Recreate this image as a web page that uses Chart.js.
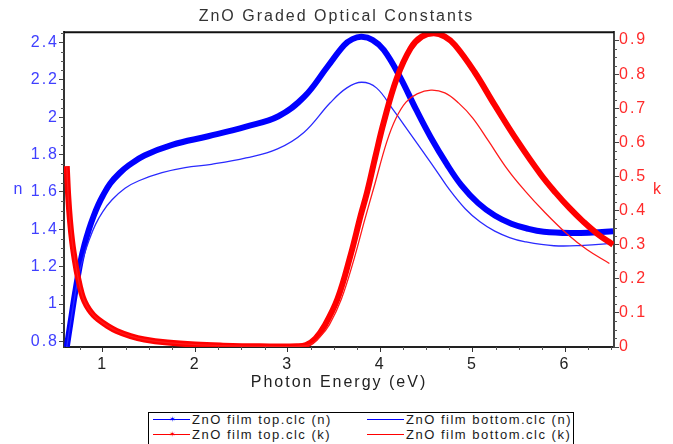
<!DOCTYPE html>
<html>
<head>
<meta charset="utf-8">
<script src="https://cdn.jsdelivr.net/npm/chart.js@4.4.1/dist/chart.umd.min.js"></script>
<style>
  html, body { margin: 0; padding: 0; background: #fff; overflow: hidden; }
  #wrap { position: relative; width: 673px; height: 444px; }
  #legend {
    position: absolute; left: 148px; top: 412px; width: 424px; height: 40px;
    border: 1px solid #000; background: #fff;
    font: 13px "Liberation Sans", Arial, sans-serif; letter-spacing: 1.5px; color: #1a1a1a;
  }
  .item { position: absolute; height: 14px; line-height: 14px; white-space: nowrap; padding-left: 39px; }
  .swatch { position: absolute; left: 0; top: 6px; width: 37px; height: 0; border-top: 1.5px solid; }
  .mark { position: absolute; left: 16px; top: 3px; font-size: 8px; line-height: 8px; letter-spacing: 0; }
</style>
</head>
<body>
<div id="wrap">
  <canvas id="opticalChart" width="673" height="444"></canvas>
  <div id="legend">
    <div class="item" style="left:4px;top:0px"><span class="swatch" style="border-color:#0000ff"></span><span class="mark" style="color:#0000ff">&#10038;</span>ZnO film top.clc (n)</div>
    <div class="item" style="left:218px;top:0px"><span class="swatch" style="border-color:#0000ff"></span>ZnO film bottom.clc (n)</div>
    <div class="item" style="left:4px;top:15px"><span class="swatch" style="border-color:#ff0000"></span><span class="mark" style="color:#ff0000">&#10038;</span>ZnO film top.clc (k)</div>
    <div class="item" style="left:218px;top:15px"><span class="swatch" style="border-color:#ff0000"></span>ZnO film bottom.clc (k)</div>
  </div>
</div>
<script>
// photon energy (eV) and refractive index n, top of the graded film
var topNEnergy = [0.61, 0.65, 0.70, 0.76, 0.80, 0.85, 0.90, 0.95, 1.0, 1.08, 1.18, 1.28, 1.45, 1.75, 2.14, 2.55, 2.9, 3.18, 3.43, 3.61, 3.7, 3.8, 3.92, 4.04, 4.21, 4.39, 4.55, 4.72, 4.88, 5.06, 5.24, 5.42, 5.6, 5.77, 6.06, 6.3, 6.52];
var topN = [0.77, 0.90, 1.06, 1.23, 1.315, 1.40, 1.47, 1.53, 1.58, 1.645, 1.70, 1.742, 1.795, 1.852, 1.898, 1.95, 2.005, 2.11, 2.27, 2.385, 2.418, 2.43, 2.413, 2.36, 2.22, 2.04, 1.89, 1.75, 1.635, 1.54, 1.474, 1.43, 1.403, 1.387, 1.38, 1.383, 1.39];

// refractive index n, bottom of the film
var bottomNEnergy = [0.61, 0.65, 0.70, 0.74, 0.79, 0.85, 0.92, 1.0, 1.1, 1.24, 1.39, 1.64, 1.89, 2.175, 2.55, 2.89, 3.175, 3.46, 3.64, 3.8, 3.96, 4.14, 4.3, 4.45, 4.6, 4.75, 4.92, 5.08, 5.24, 5.4, 5.56, 5.88, 6.2, 6.52];
var bottomN = [0.77, 0.90, 1.05, 1.155, 1.25, 1.34, 1.425, 1.495, 1.558, 1.62, 1.66, 1.703, 1.73, 1.748, 1.782, 1.83, 1.918, 2.077, 2.157, 2.187, 2.157, 2.04, 1.93, 1.825, 1.72, 1.612, 1.51, 1.44, 1.39, 1.356, 1.334, 1.312, 1.314, 1.325];

// extinction coefficient k, top of the film
var topKEnergy = [0.61, 0.625, 0.645, 0.67, 0.70, 0.73, 0.77, 0.80, 0.85, 0.90, 0.95, 1.05, 1.15, 1.3, 1.45, 1.7, 2.0, 2.3, 2.7, 3.1, 3.2, 3.3, 3.4, 3.54, 3.68, 3.79, 3.86, 3.95, 4.04, 4.18, 4.33, 4.45, 4.58, 4.7, 4.81, 5.02, 5.24, 5.49, 5.74, 5.9, 6.05, 6.2, 6.35, 6.52];
var topK = [0.53, 0.445, 0.37, 0.305, 0.25, 0.205, 0.158, 0.135, 0.11, 0.093, 0.081, 0.062, 0.047, 0.032, 0.022, 0.013, 0.007, 0.004, 0.002, 0.002, 0.006, 0.025, 0.063, 0.142, 0.269, 0.386, 0.455, 0.56, 0.66, 0.788, 0.876, 0.91, 0.92, 0.91, 0.885, 0.807, 0.709, 0.602, 0.505, 0.452, 0.407, 0.367, 0.332, 0.30];

// extinction coefficient k, bottom of the film
var bottomKEnergy = [0.61, 0.625, 0.645, 0.67, 0.70, 0.73, 0.77, 0.80, 0.85, 0.90, 0.95, 1.05, 1.15, 1.3, 1.45, 1.7, 2.0, 2.3, 2.7, 3.1, 3.25, 3.35, 3.45, 3.58, 3.72, 3.83, 3.94, 4.07, 4.17, 4.28, 4.4, 4.55, 4.7, 4.85, 5.0, 5.17, 5.38, 5.56, 5.77, 6.02, 6.24, 6.48];
var bottomK = [0.53, 0.445, 0.37, 0.305, 0.25, 0.205, 0.158, 0.135, 0.11, 0.093, 0.081, 0.062, 0.047, 0.032, 0.022, 0.013, 0.007, 0.004, 0.002, 0.002, 0.008, 0.03, 0.065, 0.14, 0.26, 0.37, 0.475, 0.60, 0.67, 0.718, 0.742, 0.753, 0.745, 0.715, 0.672, 0.605, 0.52, 0.46, 0.398, 0.332, 0.285, 0.245];

// axis tick labels
var energyTicks = [1, 2, 3, 4, 5, 6];
var nTicks = [0.8, 1, 1.2, 1.4, 1.6, 1.8, 2, 2.2, 2.4];
var kTicks = [0, 0.1, 0.2, 0.3, 0.4, 0.5, 0.6, 0.7, 0.8, 0.9];

var FONT = '"Liberation Sans", Arial, sans-serif';
var nColor = '#3f3fff';
var kColor = '#ff2a2a';

function points(xs, ys) {
    return xs.map(function(x, i) { return { x: x, y: ys[i] }; });
}

function fixedTicks(values) {
    return function(scale) {
        scale.ticks = values.map(function(v) { return { value: v }; });
    };
}

function tickText(v) {
    return String(+v.toFixed(2));
}

// minor tick marks, top border and the unrotated n / k axis labels
var decorations = {
    id: 'decorations',
    beforeDraw: function(chart) {
        chart.ctx.letterSpacing = '2px';
    },
    afterDraw: function(chart) {
        var ctx = chart.ctx, a = chart.chartArea, s = chart.scales;
        var i, p;
        ctx.save();
        ctx.strokeStyle = '#555';
        ctx.lineWidth = 1;
        ctx.beginPath();
        for (i = 3; i <= 26; i++) {
            if (i % 4 === 0) continue;
            p = Math.round(s.x.getPixelForValue(i / 4)) + 0.5;
            ctx.moveTo(p, a.bottom);
            ctx.lineTo(p, a.bottom + 3);
        }
        for (i = 16; i <= 49; i++) {
            if (i % 4 === 0) continue;
            p = Math.round(s.yN.getPixelForValue(i * 0.05)) + 0.5;
            ctx.moveTo(a.left - 3, p);
            ctx.lineTo(a.left, p);
        }
        for (i = 1; i <= 36; i++) {
            if (i % 4 === 0) continue;
            p = Math.round(s.yK.getPixelForValue(i * 0.025)) + 0.5;
            ctx.moveTo(a.right, p);
            ctx.lineTo(a.right + 3, p);
        }
        ctx.stroke();

        ctx.strokeStyle = '#111';
        ctx.lineWidth = 2;
        ctx.beginPath();
        ctx.moveTo(a.left, a.top);
        ctx.lineTo(a.right, a.top);
        ctx.stroke();

        ctx.font = '16px ' + FONT;
        ctx.textAlign = 'center';
        ctx.textBaseline = 'middle';
        var midY = (a.top + a.bottom) / 2;
        ctx.fillStyle = nColor;
        ctx.fillText('n', 19, midY);
        ctx.fillStyle = kColor;
        ctx.fillText('k', 658, midY);
        ctx.restore();
    }
};

var ctx = document.getElementById('opticalChart').getContext('2d');
var opticalChart = new Chart(ctx, {
    type: 'line',
    data: {
        datasets: [{
            label: 'ZnO film top.clc (n)',
            data: points(topNEnergy, topN),
            yAxisID: 'yN',
            borderColor: '#0000ff',
            borderWidth: 6,
            order: 3
        }, {
            label: 'ZnO film bottom.clc (n)',
            data: points(bottomNEnergy, bottomN),
            yAxisID: 'yN',
            borderColor: '#2a2aff',
            borderWidth: 1.3,
            order: 2
        }, {
            label: 'ZnO film top.clc (k)',
            data: points(topKEnergy, topK),
            yAxisID: 'yK',
            borderColor: '#ff0000',
            borderWidth: 6,
            order: 1
        }, {
            label: 'ZnO film bottom.clc (k)',
            data: points(bottomKEnergy, bottomK),
            yAxisID: 'yK',
            borderColor: '#ff1a1a',
            borderWidth: 1.3,
            order: 0
        }]
    },
    options: {
        responsive: false,
        animation: false,
        devicePixelRatio: 1,
        layout: { padding: { left: 0, right: 0, top: 0, bottom: 47 } },
        elements: {
            point: { radius: 0 },
            line: { tension: 0.4, fill: false, borderJoinStyle: 'round', borderCapStyle: 'butt' }
        },
        scales: {
            x: {
                type: 'linear',
                min: 0.58,
                max: 6.53,
                afterBuildTicks: fixedTicks(energyTicks),
                afterFit: function(scale) { scale.height = 50; },
                ticks: { color: '#222', font: { family: FONT, size: 16 }, padding: 3, maxRotation: 0, autoSkip: false, callback: tickText },
                grid: { drawOnChartArea: false, tickLength: 5, color: '#333' },
                border: { color: '#222', width: 2 },
                title: { display: true, text: 'Photon Energy (eV)', color: '#222', font: { family: FONT, size: 16 }, padding: { top: 0, bottom: 5 } }
            },
            yN: {
                type: 'linear',
                position: 'left',
                min: 0.77,
                max: 2.455,
                afterBuildTicks: fixedTicks(nTicks),
                afterFit: function(scale) { scale.width = 64; },
                ticks: { color: nColor, font: { family: FONT, size: 16 }, padding: 0, callback: tickText },
                grid: { drawOnChartArea: false, tickLength: 5, color: '#444' },
                border: { color: '#333', width: 2 }
            },
            yK: {
                type: 'linear',
                position: 'right',
                min: 0,
                max: 0.923,
                afterBuildTicks: fixedTicks(kTicks),
                afterFit: function(scale) { scale.width = 59; },
                ticks: { color: kColor, font: { family: FONT, size: 16 }, padding: 0, callback: tickText },
                grid: { drawOnChartArea: false, tickLength: 5, color: '#444' },
                border: { color: '#444', width: 2 }
            }
        },
        plugins: {
            title: {
                display: true,
                text: 'ZnO Graded Optical Constants',
                color: '#333',
                font: { family: FONT, size: 16, weight: 'normal' },
                padding: { top: 7, bottom: 6 }
            },
            legend: { display: false },
            tooltip: { enabled: false }
        }
    },
    plugins: [decorations]
});
</script>
</body>
</html>
